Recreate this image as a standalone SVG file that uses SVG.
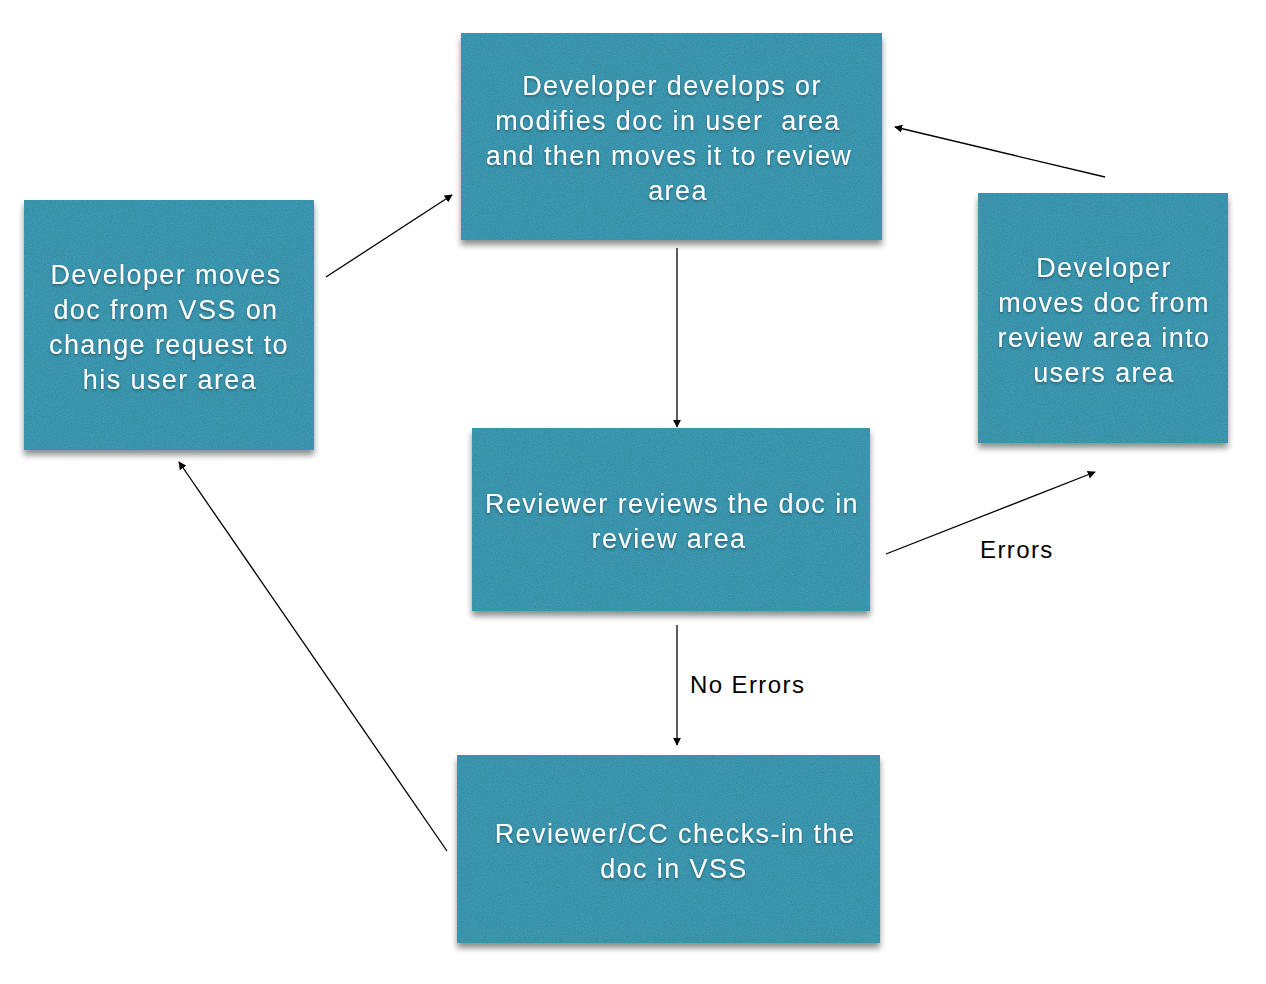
<svg xmlns="http://www.w3.org/2000/svg" width="1266" height="984" viewBox="0 0 1266 984">
<defs>
<filter id="tex" x="-5%" y="-5%" width="110%" height="120%">
<feTurbulence type="fractalNoise" baseFrequency="0.9" numOctaves="2" seed="3" result="n"/>
<feColorMatrix in="n" type="matrix" values="0 0 0 0 0  0 0 0 0 0  0 0 0 0 0  0 0 0 0.45 -0.15" result="dark"/>
<feComposite in="dark" in2="SourceGraphic" operator="in" result="darkIn"/>
<feMerge result="box"><feMergeNode in="SourceGraphic"/><feMergeNode in="darkIn"/></feMerge>
<feGaussianBlur in="SourceAlpha" stdDeviation="3"/>
<feOffset dx="0" dy="5" result="sb"/>
<feComponentTransfer in="sb" result="sh"><feFuncA type="linear" slope="0.45"/></feComponentTransfer>
<feMerge><feMergeNode in="sh"/><feMergeNode in="box"/></feMerge>
</filter>
<filter id="ts" x="-5%" y="-20%" width="110%" height="140%">
<feDropShadow dx="0" dy="1.5" stdDeviation="1" flood-color="#1a3a46" flood-opacity="0.6"/>
</filter>
<marker id="ah" viewBox="0 0 10 10" refX="9" refY="5" markerWidth="8" markerHeight="8" markerUnits="userSpaceOnUse" orient="auto">
<path d="M0,0 L10,5 L0,10 z" fill="#000"/>
</marker>
<style>
.box{fill:#3c9ab3;}
.t{font-family:"Liberation Sans",Arial,sans-serif;font-size:27px;fill:#fff;text-anchor:middle;letter-spacing:1.4px;}
.lbl{font-family:"Liberation Sans",Arial,sans-serif;font-size:24px;fill:#000;letter-spacing:1.4px;}
.c{stroke:#000;stroke-width:1.3;fill:none;marker-end:url(#ah);}
</style>
</defs>
<rect width="1266" height="984" fill="#fff"/>
<g id="connectors">
<line class="c" x1="326" y1="277" x2="452" y2="195"/>
<line class="c" x1="1105" y1="177" x2="895" y2="127"/>
<line class="c" x1="677" y1="248" x2="677" y2="427"/>
<line class="c" x1="886" y1="554" x2="1095" y2="472"/>
<line class="c" x1="677" y1="625" x2="677" y2="745"/>
<line class="c" x1="447" y1="851" x2="179" y2="462"/>
<text class="lbl" x="980" y="558">Errors</text>
<text class="lbl" x="690" y="693">No Errors</text>
</g>
<g id="node-top">
<rect class="box" x="461" y="33" width="421" height="207" filter="url(#tex)"/>
<g class="t" filter="url(#ts)">
<text x="672" y="95">Developer develops or</text>
<text x="668" y="130" xml:space="preserve">modifies doc in user  area</text>
<text x="669" y="165">and then moves it to review</text>
<text x="678" y="200">area</text>
</g>
</g>
<g id="node-left">
<rect class="box" x="24" y="200" width="290" height="250" filter="url(#tex)"/>
<g class="t" filter="url(#ts)">
<text x="166" y="284">Developer moves</text>
<text x="166" y="319">doc from VSS on</text>
<text x="169" y="354">change request to</text>
<text x="170" y="389">his user area</text>
</g>
</g>
<g id="node-right">
<rect class="box" x="978" y="193" width="250" height="250" filter="url(#tex)"/>
<g class="t" filter="url(#ts)">
<text x="1104" y="277">Developer</text>
<text x="1104" y="312">moves doc from</text>
<text x="1104" y="347">review area into</text>
<text x="1104" y="382">users area</text>
</g>
</g>
<g id="node-middle">
<rect class="box" x="472" y="428" width="398" height="183" filter="url(#tex)"/>
<g class="t" filter="url(#ts)">
<text x="672" y="513">Reviewer reviews the doc in</text>
<text x="669" y="548">review area</text>
</g>
</g>
<g id="node-bottom">
<rect class="box" x="457" y="755" width="423" height="188" filter="url(#tex)"/>
<g class="t" filter="url(#ts)">
<text x="675" y="843">Reviewer/CC checks-in the</text>
<text x="674" y="878">doc in VSS</text>
</g>
</g>
</svg>
